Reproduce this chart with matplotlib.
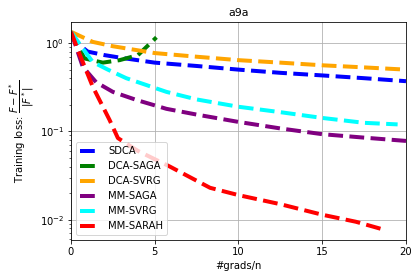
import matplotlib
matplotlib.use("Agg")
import matplotlib.pyplot as plt

# data (x in #grads/n, y = relative training loss)
sdca_x = [0, 0.5, 1, 2, 3, 5, 7.5, 10, 12.5, 15, 17.5, 20]
sdca_y = [1.34, 0.95, 0.80, 0.73, 0.68, 0.60, 0.55, 0.50, 0.46, 0.43, 0.40, 0.37]

dcasaga_x = [0, 0.8, 1.9, 2.9, 4.0, 5.1]
dcasaga_y = [1.34, 0.67, 0.60, 0.64, 0.73, 1.16]

dcasvrg_x = [0, 1.3, 2.5, 5, 7.5, 10, 12.5, 15, 17.5, 20]
dcasvrg_y = [1.34, 1.03, 0.92, 0.77, 0.70, 0.64, 0.60, 0.56, 0.53, 0.50]

mmsaga_x = [0, 0.7, 1.5, 2.5, 3.9, 5.7, 7.5, 10, 12.5, 15, 17.5, 20]
mmsaga_y = [1.34, 0.54, 0.36, 0.28, 0.227, 0.18, 0.155, 0.128, 0.108, 0.093, 0.085, 0.078]

mmsvrg_x = [0, 0.7, 1.3, 2.2, 3.3, 5.7, 7.5, 10, 12.5, 15, 17.5, 19.5]
mmsvrg_y = [1.34, 0.87, 0.61, 0.50, 0.40, 0.28, 0.23, 0.19, 0.165, 0.142, 0.125, 0.12]

mmsarah_x = [0, 0.5, 1.3, 2.3, 2.8, 4, 5.9, 8.3, 10, 12.5, 15, 17, 18.7]
mmsarah_y = [1.34, 0.76, 0.32, 0.135, 0.084, 0.06, 0.04, 0.023, 0.019, 0.015, 0.0114, 0.0095, 0.0077]

fig = plt.figure(figsize=(419 / 72, 278 / 72), dpi=72)
ax = fig.add_axes([71 / 419, 1 - 240 / 278, (406 - 71) / 419, (240 - 22) / 278])

lw = 4
ax.plot(sdca_x, sdca_y, "--", color="blue", lw=lw, label="SDCA")
ax.plot(dcasaga_x, dcasaga_y, "--", color="green", lw=lw, label="DCA-SAGA")
ax.plot(dcasvrg_x, dcasvrg_y, "--", color="orange", lw=lw, label="DCA-SVRG")
ax.plot(mmsaga_x, mmsaga_y, "--", color="purple", lw=lw, label="MM-SAGA")
ax.plot(mmsvrg_x, mmsvrg_y, "--", color="cyan", lw=lw, label="MM-SVRG")
ax.plot(mmsarah_x, mmsarah_y, "--", color="red", lw=lw, label="MM-SARAH")

ax.set_yscale("log")
ax.set_xlim(0, 20)
ax.set_ylim(0.0059, 1.73)
ax.set_xticks([0, 5, 10, 15, 20])
ax.grid(True, which="major", color="#b0b0b0", lw=0.8)
ax.set_title("a9a", fontsize=11)
ax.set_xlabel("#grads/n")
ax.set_ylabel(r"Training loss: $\dfrac{F-F^*}{|F^*|}$")
ax.legend(loc="lower left")

fig.savefig("out.png", dpi=72)
